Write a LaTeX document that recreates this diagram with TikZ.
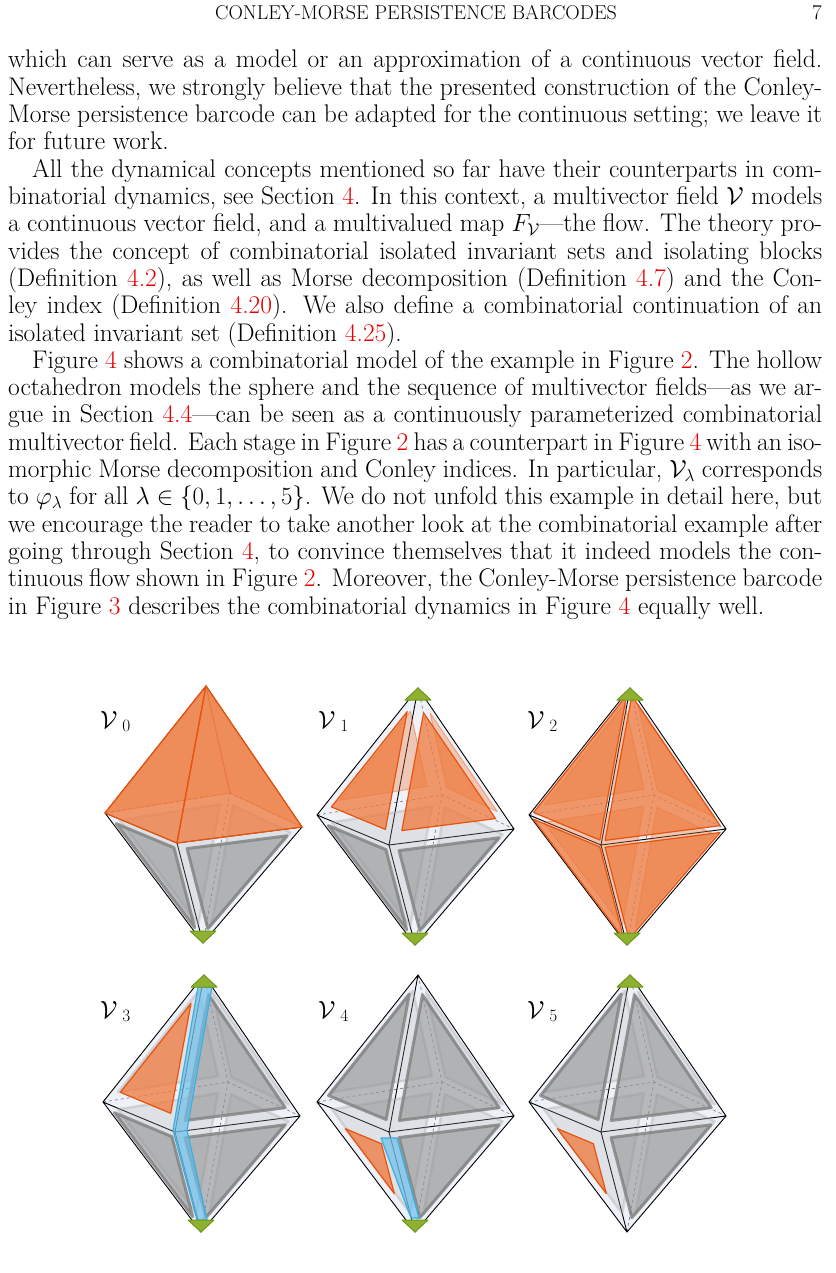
\documentclass[tikz,border=0pt]{standalone}
\usepackage{fontspec}
\usepackage{amsmath,amssymb}
\usetikzlibrary{calc}
\definecolor{lnk}{RGB}{230,0,0}
\definecolor{bgo}{RGB}{238,241,248}
\definecolor{org}{RGB}{240,122,60}
\definecolor{orgd}{RGB}{232,83,14}
\definecolor{blu}{RGB}{110,192,236}
\definecolor{blud}{RGB}{58,174,224}
\definecolor{grn}{RGB}{143,176,48}
\definecolor{grnd}{RGB}{110,154,26}
\newcommand\rf[1]{\textcolor{lnk}{#1}}
\newcommand\ofc[5][0.2]{%
  \coordinate (cen) at (barycentric cs:#2=1,#3=1,#4=1);
  \filldraw[#5] ($(#2)!#1!(cen)$) -- ($(#3)!#1!(cen)$) -- ($(#4)!#1!(cen)$) -- cycle;}
\newcommand\octabase{%
  \coordinate (T) at (0,0); \coordinate (L) at (-101,127); \coordinate (F) at (-29,157);
  \coordinate (R) at (96,141); \coordinate (K) at (24,107); \coordinate (B) at (-3,257);
  \fill[bgo] (T) -- (L) -- (B) -- (R) -- cycle;
  \draw[edgeb] (T) -- (K) (B) -- (K) (L) -- (K) -- (R);
  \draw[edgef] (T) -- (L) -- (B) -- (R) -- cycle (L) -- (F) -- (R) (T) -- (F) -- (B);}
\newcommand\gcapT{\filldraw[capg] (T) -- ++(-13,12) -- ++(26,0) -- cycle;}
\newcommand\gcapB{\filldraw[capg] (B) -- ++(-13,-12) -- ++(26,0) -- cycle;}
\tikzset{
  edgef/.style={black,line width=0.9pt},
  edgeb/.style={gray,dashed,line width=0.7pt},
  grayf/.style={fill=gray!85,fill opacity=0.6,draw=gray,line width=3pt,draw opacity=0.8,line join=round},
  grayb/.style={fill=gray!60,fill opacity=0.25,draw=gray!70,line width=2.5pt,draw opacity=0.35,line join=round},
  orgf/.style={fill=org,fill opacity=0.75,draw=orgd,line width=1.2pt,line join=round},
  orgb/.style={fill=org,fill opacity=0.35,draw=orgd,draw opacity=0.4,line width=1pt,line join=round},
  bluf/.style={fill=blu,fill opacity=0.7,draw=blud,line width=1.2pt,line join=round},
  capg/.style={fill=grn,draw=grnd,line width=1pt,line join=round},
  txt/.style={anchor=base west,inner sep=0pt,font=\fontsize{25.5}{27}\selectfont},
  lab/.style={anchor=base west,inner sep=0pt,font=\fontsize{36}{36}\selectfont}
}
\begin{document}
\begin{tikzpicture}[x=1pt,y=-1pt]
\useasboundingbox (0,0) rectangle (835,1273);
\fill[white] (0,0) rectangle (835,1273);
\node[anchor=base west,inner sep=0pt,font=\fontsize{20}{22}\selectfont] (hd) at (215,20) {CONLEY-MORSE PERSISTENCE BARCODES};
\node[anchor=base east,inner sep=0pt,font=\fontsize{21}{22}\selectfont] (pg) at (822,20) {7};
\def\W{814pt}
\node[txt] (l1) at (8,68) {\makebox[\W][s]{which can serve as a model or an approximation of a continuous vector field.}};
\node[txt] (l2) at (8,95.3) {\makebox[\W][s]{Nevertheless, we strongly believe that the presented construction of the Conley-}};
\node[txt] (l3) at (8,122.6) {\makebox[\W][s]{Morse persistence barcode can be adapted for the continuous setting; we leave it}};
\node[txt] (l4) at (8,149.9) {for future work.};
\node[txt] (l5) at (32,177.2) {\makebox[790pt][s]{All the dynamical concepts mentioned so far have their counterparts in com-}};
\node[txt] (l6) at (8,204.5) {\makebox[\W][s]{binatorial dynamics, see Section \rf{4}. In this context, a multivector field $\mathcal{V}$ models}};
\node[txt] (l7) at (8,231.8) {\makebox[\W][s]{a continuous vector field, and a multivalued map $F_{\mathcal{V}}$---the flow. The theory pro-}};
\node[txt] (l8) at (8,259.1) {\makebox[\W][s]{vides the concept of combinatorial isolated invariant sets and isolating blocks}};
\node[txt] (l9) at (8,286.4) {\makebox[\W][s]{(Definition \rf{4.2}), as well as Morse decomposition (Definition \rf{4.7}) and the Con-}};
\node[txt] (l10) at (8,313.7) {\makebox[\W][s]{ley index (Definition \rf{4.20}). We also define a combinatorial continuation of an}};
\node[txt] (l11) at (8,341) {isolated invariant set (Definition \rf{4.25}).};
\node[txt] (l12) at (32,368.3) {\makebox[790pt][s]{Figure \rf{4} shows a combinatorial model of the example in Figure \rf{2}. The hollow}};
\node[txt] (l13) at (8,395.6) {\makebox[\W][s]{octahedron models the sphere and the sequence of multivector fields---as we ar-}};
\node[txt] (l14) at (8,422.9) {\makebox[\W][s]{gue in Section \rf{4.4}---can be seen as a continuously parameterized combinatorial}};
\node[txt] (l15) at (8,450.2) {\makebox[\W][s]{multivector field. Each stage in Figure \rf{2} has a counterpart in Figure \rf{4} with an iso-}};
\node[txt] (l16) at (8,477.5) {\makebox[\W][s]{morphic Morse decomposition and Conley indices. In particular, $\mathcal{V}_\lambda$ corresponds}};
\node[txt] (l17) at (8,504.8) {\makebox[\W][s]{to $\varphi_\lambda$ for all $\lambda\in\{0,1,\dots,5\}$. We do not unfold this example in detail here, but}};
\node[txt] (l18) at (8,532.1) {\makebox[\W][s]{we encourage the reader to take another look at the combinatorial example after}};
\node[txt] (l19) at (8,559.4) {\makebox[\W][s]{going through Section \rf{4}, to convince themselves that it indeed models the con-}};
\node[txt] (l20) at (8,586.7) {\makebox[\W][s]{tinuous flow shown in Figure \rf{2}. Moreover, the Conley-Morse persistence barcode}};
\node[txt] (l21) at (8,614) {in Figure \rf{3} describes the combinatorial dynamics in Figure \rf{4} equally well.};
% labels
\node[lab] (v0) at (100,728) {$\mathcal{V}_{\;\scriptscriptstyle 0}$};
\node[lab] (v1) at (318,728) {$\mathcal{V}_{\;\scriptscriptstyle 1}$};
\node[lab] (v2) at (527,728) {$\mathcal{V}_{\;\scriptscriptstyle 2}$};
\node[lab] (v3) at (100,1018) {$\mathcal{V}_{\;\scriptscriptstyle 3}$};
\node[lab] (v4) at (318,1018) {$\mathcal{V}_{\;\scriptscriptstyle 4}$};
\node[lab] (v5) at (527,1018) {$\mathcal{V}_{\;\scriptscriptstyle 5}$};
% V0
\begin{scope}[shift={(206,686)}]
\octabase
\ofc{B}{K}{L}{grayb}\ofc{B}{R}{K}{grayb}
\ofc{B}{L}{F}{grayf}\ofc{B}{F}{R}{grayf}
\ofc[0]{T}{K}{L}{orgb}\ofc[0]{T}{R}{K}{orgb}
\ofc[0]{T}{L}{F}{orgf}\ofc[0]{T}{F}{R}{orgf}
\gcapB
\end{scope}
% V1
\begin{scope}[shift={(418,688)}]
\octabase
\ofc{B}{K}{L}{grayb}\ofc{B}{R}{K}{grayb}
\ofc{B}{L}{F}{grayf}\ofc{B}{F}{R}{grayf}
\ofc[0.3]{T}{K}{L}{orgb}\ofc[0.3]{T}{R}{K}{orgb}
\ofc[0.25]{T}{L}{F}{orgf}\ofc[0.25]{T}{F}{R}{orgf}
\gcapT\gcapB
\end{scope}
% V2
\begin{scope}[shift={(630,688)}]
\octabase
\ofc{T}{K}{L}{orgb}\ofc{T}{R}{K}{orgb}\ofc{B}{K}{L}{orgb}\ofc{B}{R}{K}{orgb}
\ofc[0.08]{T}{L}{F}{orgf}\ofc[0.08]{T}{F}{R}{orgf}
\ofc[0.08]{B}{L}{F}{orgf}\ofc[0.08]{B}{F}{R}{orgf}
\gcapT\gcapB
\end{scope}
% V3
\begin{scope}[shift={(204,975)}]
\octabase
\ofc{T}{K}{L}{grayb}\ofc{T}{R}{K}{grayb}\ofc{B}{K}{L}{grayb}\ofc{B}{R}{K}{grayb}
\ofc{T}{F}{R}{grayf}\ofc{B}{F}{R}{grayf}\ofc{B}{L}{F}{grayf}
\ofc[0.3]{T}{L}{F}{orgf}
\filldraw[bluf] ($(T)+(8,12)$) -- ($(T)+(-6,12)$) -- ($(F)+(-2,-2)$) -- ($(B)+(-4,-12)$) -- ($(B)+(6,-12)$) -- ($(F)+(12,-2)$) -- cycle;
\gcapT\gcapB
\end{scope}
% V4
\begin{scope}[shift={(418,975)}]
\octabase
\ofc{T}{K}{L}{grayb}\ofc{T}{R}{K}{grayb}\ofc{B}{K}{L}{grayb}\ofc{B}{R}{K}{grayb}
\ofc{T}{L}{F}{grayf}\ofc{T}{F}{R}{grayf}\ofc{B}{F}{R}{grayf}
\ofc[0.5]{B}{L}{F}{orgf}
\filldraw[bluf] ($(F)+(-8,6)$) -- ($(F)+(8,6)$) -- ($(B)+(4,-14)$) -- ($(B)+(-4,-14)$) -- cycle;
\gcapB
\end{scope}
% V5
\begin{scope}[shift={(630,975)}]
\octabase
\ofc{T}{K}{L}{grayb}\ofc{T}{R}{K}{grayb}\ofc{B}{K}{L}{grayb}\ofc{B}{R}{K}{grayb}
\ofc{T}{L}{F}{grayf}\ofc{T}{F}{R}{grayf}\ofc{B}{F}{R}{grayf}
\ofc[0.5]{B}{L}{F}{orgf}
\gcapT
\end{scope}
\end{tikzpicture}
\end{document}
